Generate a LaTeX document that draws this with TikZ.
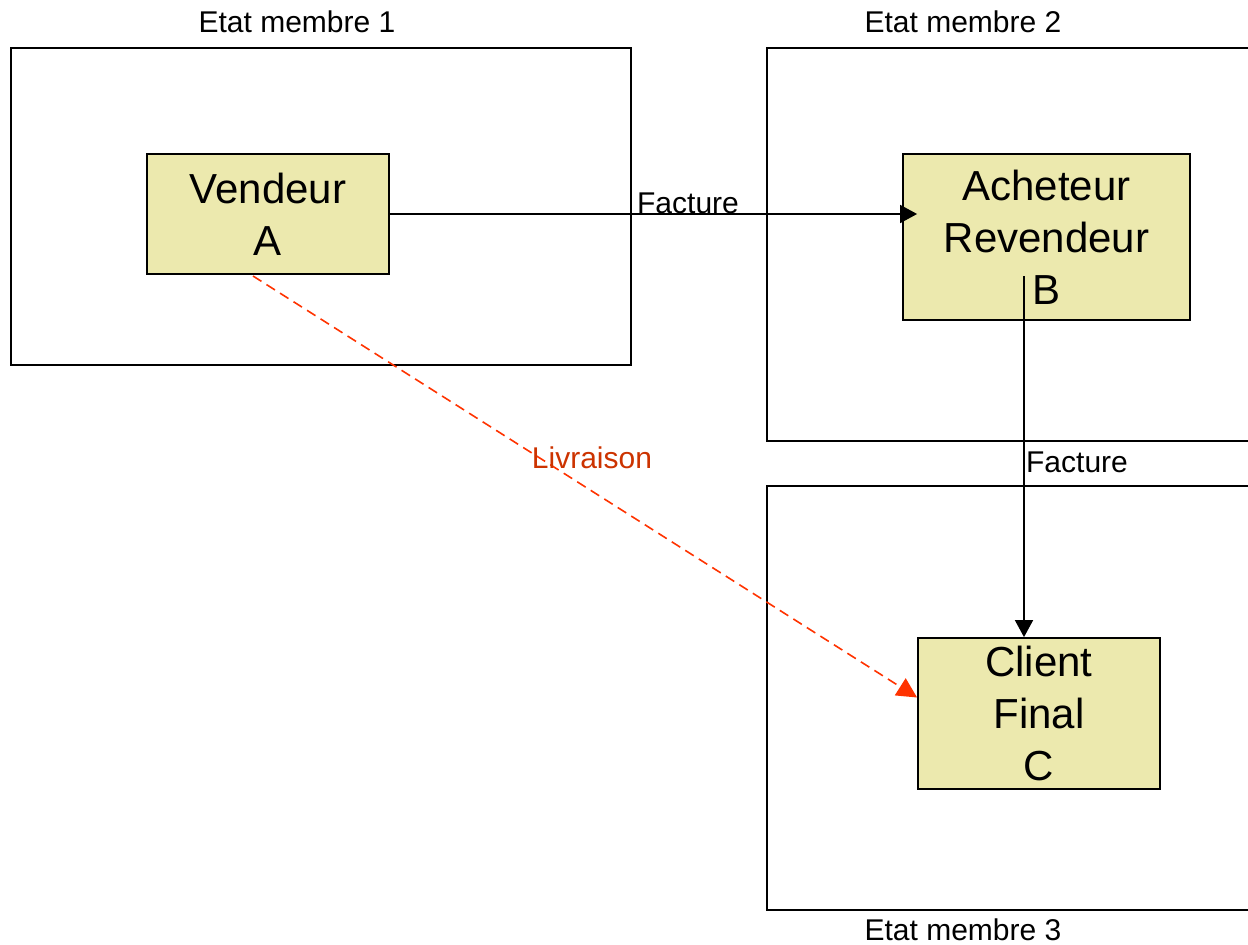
\documentclass[tikz,border=0pt]{standalone}
\usepackage{fontspec}
\setmainfont{Liberation Sans}
\usetikzlibrary{calc,arrows.meta}
\definecolor{acteurFill}{RGB}{236,233,174}
\definecolor{livRed}{RGB}{255,51,0}
\definecolor{livText}{RGB}{204,51,0}
\tikzset{
  etat/.style={draw=black,line width=1pt},
  acteur/.style={draw=black,fill=acteurFill,line width=0.9pt,align=center,inner sep=0pt,font=\fontsize{21}{26}\selectfont},
  lbl/.style={anchor=base,inner sep=0pt,font=\fontsize{15}{18}\selectfont},
  flux/.style={line width=0.9pt,-{Triangle[length=8.5pt,width=9pt]}},
  livr/.style={livRed,line width=0.8pt,dash pattern=on 5pt off 3pt,-{Triangle[length=10pt,width=10pt]}}
}

\begin{document}
\begin{tikzpicture}[x=0.5pt,y=-0.5pt]
\useasboundingbox (0,0) rectangle (1248,944);
\draw[etat] (11,48) rectangle (631,365);
\draw[etat] (1248,48) -- (767,48) -- (767,441) -- (1248,441);
\draw[etat] (1248,486) -- (767,486) -- (767,910) -- (1248,910);
\node[lbl] (etat1) at (297,32) {Etat membre 1};
\node[lbl] (etat2) at (963,32) {Etat membre 2};
\node[lbl] (etat3) at (963,940) {Etat membre 3};

\node[acteur,minimum width=121pt,minimum height=60pt] (A) at (268,214) {Vendeur\\A};
\node[acteur,minimum width=143.5pt,minimum height=83pt] (B) at (1046.5,237) {Acheteur\\Revendeur\\B};
\node[acteur,minimum width=121pt,minimum height=75.5pt] (C) at (1039,713.5) {Client\\Final\\C};

\coordinate (bdep) at (1024,276);
\coordinate (adep) at (253,276);
\coordinate (carr) at ($(C.west)+(0,-16)$);

\draw[flux,shorten >=-7.5pt] (A.east) -- (A.east -| B.west);
\draw[flux] (bdep) -- (bdep |- C.north);
\draw[livr] (adep) -- (carr);

\node[lbl] (fact1) at (688,213) {Facture};
\node[lbl] (fact2) at (1077,472) {Facture};
\node[lbl,text=livText] (livr) at (592,468) {Livraison};
\end{tikzpicture}
\end{document}
